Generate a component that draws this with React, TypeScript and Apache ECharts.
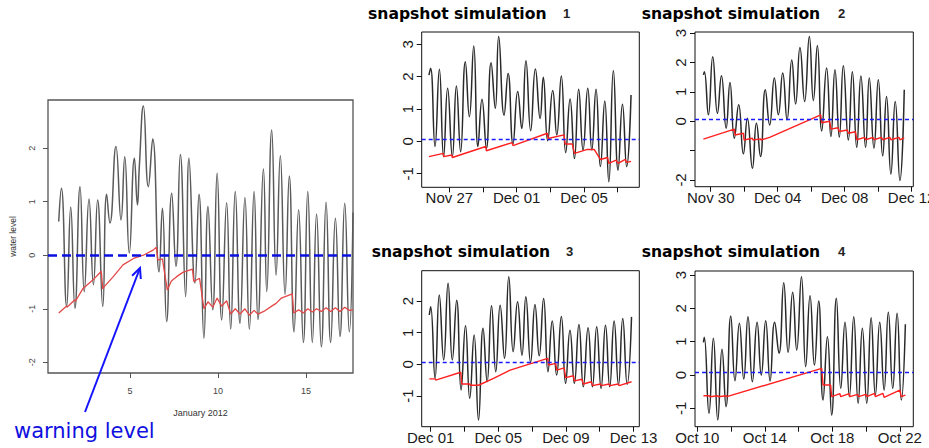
import React, { useEffect, useRef } from "react";
import * as echarts from "echarts";

// ---------- Left panel: January 2012 (x = day of month) ----------
const tideJan: number[][] = [
  [0.95, 0.63], [1.1, 1.25], [1.4, -0.96], [1.63, 0.9], [1.87, -0.99], [2.16, 1.28], [2.4, -0.68],
  [2.67, 1.05], [2.92, -0.55], [3.16, 1.03], [3.45, -0.96], [3.67, 1.14], [3.86, 0.6], [4.2, 2.03],
  [4.49, 0.66], [4.7, 1.84], [4.96, 0.04], [5.25, 1.81], [5.42, 0.94], [5.53, 1.66], [5.76, 2.79],
  [6.04, 1.28], [6.29, 2.17], [6.65, -0.31], [6.84, 0.88], [7.08, -1.24], [7.37, 1.16], [7.61, -0.21],
  [7.86, 1.88], [8.16, -0.77], [8.35, 1.81], [8.69, -0.52], [8.92, 1.14], [9.2, -1.55], [9.43, 0.91],
  [9.7, -1.02], [9.95, 1.53], [10.21, -1.21], [10.49, 0.98], [10.72, -1.38], [10.98, 1.19], [11.25, -1.27],
  [11.53, 1.08], [11.78, -1.38], [12.05, 1.19], [12.27, -1.2], [12.58, 1.61], [12.77, -0.68], [13.05, 2.34],
  [13.3, -0.37], [13.54, 1.86], [13.81, -0.73], [14.05, 1.48], [14.32, -1.43], [14.58, 0.85], [14.85, -1.63],
  [15.1, 1.19], [15.36, -1.63], [15.6, 0.77], [15.87, -1.71], [16.14, 0.99], [16.4, -1.63], [16.67, 0.69],
  [16.93, -1.52], [17.2, 0.97], [17.46, -1.43], [17.67, 0.8],
];
const modelJan: number[][] = [
  [0.95, -1.08], [1.4, -0.95], [1.42, -0.97], [1.87, -0.83], [1.9, -0.86], [2.33, -0.62], [2.9, -0.46],
  [3.37, -0.3], [3.45, -0.63], [3.5, -0.6], [4.05, -0.4], [4.6, -0.18], [5.2, -0.06], [5.76, 0.0],
  [6.33, 0.1], [6.5, 0.15], [6.58, -0.09], [6.84, -0.07], [7.12, -0.65], [7.35, -0.48], [7.65, -0.4],
  [8.0, -0.32], [8.55, -0.26], [8.62, -0.49], [8.95, -0.43], [9.2, -1.0], [9.43, -0.87], [9.7, -0.97],
  [9.95, -0.8], [10.21, -0.95], [10.49, -0.85], [10.72, -1.1], [10.98, -1.0], [11.25, -1.1], [11.53, -1.0],
  [11.78, -1.12], [12.05, -1.03], [12.27, -1.1], [12.6, -1.05], [13.05, -0.95], [13.3, -0.9], [13.6, -0.8],
  [14.22, -0.72], [14.3, -1.08], [14.58, -1.02], [14.85, -1.08], [15.1, -1.0], [15.36, -1.06], [15.6, -1.0],
  [15.87, -1.05], [16.14, -0.98], [16.4, -1.05], [16.67, -0.98], [16.93, -1.05], [17.2, -0.97], [17.46, -1.03],
  [17.67, -1.02],
];
const warnJan = 0;
const ticksJanX = [5, 10, 15];
const labelDaysJanX = [5, 10, 15];
const labelsJanX = ["5", "10", "15"];
const ticksJanY = [-2, -1, 0, 1, 2];
const labelValsJanY = [-2, -1, 0, 1, 2];

// ---------- Snapshot 1 (x = days after Nov 27) ----------
const tideS1: number[][] = [
  [-1.21, 2.05], [-1.11, 2.26], [-0.85, -0.16], [-0.59, 2.23], [-0.34, -0.47], [-0.1, 1.64], [0.18, -0.47],
  [0.42, 1.71], [0.67, -0.32], [0.95, 2.46], [1.19, 0.76], [1.45, 2.95], [1.7, -0.16], [1.94, 1.3],
  [2.2, -0.22], [2.48, 2.43], [2.73, 1.02], [2.93, 3.24], [3.25, 0.81], [3.49, 2.1], [3.78, -0.08],
  [4.06, 1.54], [4.3, 0.4], [4.55, 2.49], [4.83, 0.33], [5.11, 2.24], [5.39, 0.71], [5.58, 1.98],
  [5.84, 0.02], [6.14, 1.57], [6.38, 0.2], [6.65, 2.02], [6.91, -0.35], [7.17, 1.31], [7.43, -0.53],
  [7.68, 1.61], [7.94, -0.27], [8.22, 1.64], [8.46, -0.27], [8.71, 1.61], [8.97, -0.78], [9.23, 1.25],
  [9.47, -1.25], [9.74, 2.19], [10.02, -0.89], [10.28, 1.15], [10.53, -0.78], [10.79, 1.43],
];
const modelS1: number[][] = [
  [-1.21, -0.47], [-0.36, -0.37], [-0.33, -0.47], [0.15, -0.42], [0.18, -0.5], [2.16, -0.16], [2.2, -0.29],
  [3.72, -0.04], [3.78, -0.13], [5.82, 0.25], [5.86, 0.09], [6.81, 0.2], [6.88, -0.08], [7.3, -0.08],
  [7.43, -0.37], [8.2, -0.25], [8.6, -0.25], [8.97, -0.56], [9.4, -0.5], [9.47, -0.68], [9.9, -0.58],
  [10.02, -0.68], [10.45, -0.56], [10.53, -0.65], [10.79, -0.62],
];
const warnS1 = 0.06;
const ticksS1X = [0, 2, 4, 6, 8, 10];
const labelDaysS1X = [0, 4, 8];
const labelsS1X = ["Nov 27", "Dec 01", "Dec 05"];
const ticksS1Y = [-1, 0, 1, 2, 3];
const labelValsS1Y = [-1, 0, 1, 2, 3];

// ---------- Snapshot 2 (x = days after Nov 30) ----------
const tideS2: number[][] = [
  [-0.44, 1.58], [-0.38, 1.69], [-0.14, 0.22], [0.12, 2.2], [0.4, 0.27], [0.64, 1.55], [0.92, -0.24],
  [1.15, 1.32], [1.41, -0.58], [1.67, 0.56], [1.95, -1.11], [2.19, 0.1], [2.49, -1.6], [2.73, -0.07],
  [2.97, -1.2], [3.26, 1.07], [3.52, -0.13], [3.8, 1.47], [4.04, 0.22], [4.3, 1.64], [4.56, 0.05],
  [4.84, 2.09], [5.07, 0.59], [5.33, 2.51], [5.61, 0.67], [5.89, 2.89], [6.13, 0.7], [6.37, 2.58],
  [6.63, -0.33], [6.92, 1.81], [7.18, -0.52], [7.42, 1.75], [7.68, -0.54], [7.92, 1.89], [8.22, -0.64],
  [8.46, 1.69], [8.72, -0.89], [8.97, 1.54], [9.25, -0.89], [9.47, 1.47], [9.75, -0.92], [10.01, 1.41],
  [10.27, -1.18], [10.5, 0.84], [10.76, -1.8], [11.02, 0.67], [11.3, -2.02], [11.56, 1.07],
];
const modelS2: number[][] = [
  [-0.44, -0.61], [1.41, -0.27], [1.45, -0.47], [1.95, -0.41], [1.99, -0.64], [2.49, -0.58], [2.53, -0.64],
  [2.97, -0.6], [3.0, -0.64], [3.52, -0.55], [6.57, 0.22], [6.63, -0.05], [7.1, 0.0], [7.18, -0.27],
  [7.6, -0.22], [7.68, -0.35], [8.15, -0.3], [8.22, -0.41], [8.65, -0.36], [8.72, -0.63], [9.2, -0.55],
  [9.25, -0.63], [9.7, -0.55], [9.75, -0.63], [10.2, -0.55], [10.27, -0.63], [10.7, -0.55], [10.76, -0.63],
  [11.25, -0.55], [11.3, -0.63], [11.56, -0.57],
];
const warnS2 = 0.07;
const ticksS2X = [0, 2, 4, 6, 8, 10, 12];
const labelDaysS2X = [0, 4, 8, 12];
const labelsS2X = ["Nov 30", "Dec 04", "Dec 08", "Dec 12"];
const ticksS2Y = [-2, -1, 0, 1, 2, 3];
const labelValsS2Y = [-2, 0, 1, 2, 3];

// ---------- Snapshot 3 (x = days after Dec 01) ----------
const tideS3: number[][] = [
  [-0.08, 1.56], [0, 1.82], [0.26, -0.44], [0.51, 2.19], [0.77, 0.14], [1.03, 2.56], [1.28, 0.14],
  [1.54, 2.03], [1.8, -0.81], [2.06, 1.22], [2.31, -1.07], [2.57, 0.93], [2.83, -1.76], [3.1, 1.14],
  [3.34, -0.55], [3.6, 1.85], [3.85, -0.23], [4.11, 1.87], [4.37, 0.19], [4.62, 2.77], [4.88, 0.4],
  [5.14, 1.98], [5.4, 0.29], [5.63, 2.14], [5.91, 0.06], [6.17, 1.89], [6.42, 0.27], [6.68, 2.08],
  [6.94, -0.23], [7.19, 1.37], [7.45, -0.34], [7.73, 1.51], [7.98, -0.6], [8.24, 1.08], [8.5, -0.6],
  [8.77, 1.26], [9.03, -0.71], [9.31, 1.16], [9.57, -0.71], [9.82, 1.19], [10.08, -0.76], [10.34, 1.24],
  [10.59, -0.71], [10.85, 1.37], [11.11, -0.65], [11.36, 1.45], [11.62, -0.63], [11.88, 1.5],
];
const modelS3: number[][] = [
  [-0.08, -0.46], [0.28, -0.46], [0.3, -0.5], [1.78, -0.25], [1.84, -0.62], [2.3, -0.62], [2.35, -0.66],
  [2.83, -0.66], [3.72, -0.44], [4.7, -0.18], [6.92, 0.19], [6.98, -0.02], [7.4, 0.03], [7.45, -0.18],
  [7.9, -0.11], [7.98, -0.42], [8.45, -0.36], [8.5, -0.52], [8.95, -0.47], [9.03, -0.62], [9.5, -0.55],
  [9.57, -0.67], [10.05, -0.62], [10.1, -0.67], [10.55, -0.62], [10.6, -0.67], [11.1, -0.62], [11.15, -0.67],
  [11.88, -0.55],
];
const warnS3 = 0.07;
const ticksS3X = [0, 2, 4, 6, 8, 10, 12];
const labelDaysS3X = [0, 4, 8, 12];
const labelsS3X = ["Dec 01", "Dec 05", "Dec 09", "Dec 13"];
const ticksS3Y = [-1, 0, 1, 2];
const labelValsS3Y = [-1, 0, 1, 2];

// ---------- Snapshot 4 (x = days after Oct 10) ----------
const tideS4: number[][] = [
  [0.36, 0.98], [0.41, 1.13], [0.69, -1.15], [0.95, 1.1], [1.21, -1.35], [1.46, 0.77], [1.7, -0.95],
  [1.98, 1.77], [2.23, -0.17], [2.49, 1.55], [2.75, -0.12], [3.0, 1.75], [3.26, -0.2], [3.54, 1.58],
  [3.79, 0], [4.05, 1.63], [4.31, -0.18], [4.58, 1.58], [4.84, 0.65], [5.12, 2.77], [5.38, 0.68],
  [5.65, 2.48], [5.89, 0.75], [6.17, 2.95], [6.42, 0.25], [6.68, 2.38], [6.94, 0.3], [7.19, 2.22],
  [7.45, -0.75], [7.71, 1.15], [7.96, -1.2], [8.24, 2.3], [8.5, -0.4], [8.75, 1.58], [9.01, -0.65],
  [9.27, 1.75], [9.53, -0.85], [9.78, 1.4], [10.04, -0.85], [10.3, 1.72], [10.55, -0.6], [10.81, 1.58],
  [11.07, -0.45], [11.32, 1.88], [11.58, -0.4], [11.84, 1.85], [12.09, -0.75], [12.33, 1.52],
];
const modelS4: number[][] = [
  [0.36, -0.62], [0.7, -0.62], [0.75, -0.65], [1.2, -0.62], [1.25, -0.65], [1.7, -0.62], [1.75, -0.65],
  [7.37, 0.2], [7.45, -0.3], [7.9, -0.3], [7.96, -0.65], [8.45, -0.56], [8.5, -0.65], [9.0, -0.56],
  [9.05, -0.65], [9.5, -0.58], [9.55, -0.65], [10.0, -0.58], [10.05, -0.65], [10.5, -0.55], [10.55, -0.65],
  [11.0, -0.55], [11.07, -0.67], [12.0, -0.45], [12.09, -0.65], [12.33, -0.6],
];
const warnS4 = 0.08;
const ticksS4X = [0, 2, 4, 6, 8, 10, 12];
const labelDaysS4X = [0, 4, 8, 12];
const labelsS4X = ["Oct 10", "Oct 14", "Oct 18", "Oct 22"];
const ticksS4Y = [-1, 0, 1, 2, 3];
const labelValsS4Y = [-1, 0, 1, 2, 3];

const titleText = "snapshot simulation";
const titleNumbers = ["1", "2", "3", "4"];

type Panel = {
  tide: number[][]; model: number[][]; warn: number;
  xTicks: number[]; xLabelAt: number[]; xLabels: string[];
  yTicks: number[]; yLabelAt: number[];
  xMin: number; xMax: number; yMin: number; yMax: number;
  rect: [number, number, number, number];
};

const panels: Panel[] = [
  { tide: tideJan, model: modelJan, warn: warnJan, xTicks: ticksJanX, xLabelAt: labelDaysJanX, xLabels: labelsJanX,
    yTicks: ticksJanY, yLabelAt: labelValsJanY, xMin: 0.34, xMax: 17.67, yMin: -2.2, yMax: 2.9, rect: [48, 100, 305, 273] },
  { tide: tideS1, model: modelS1, warn: warnS1, xTicks: ticksS1X, xLabelAt: labelDaysS1X, xLabels: labelsS1X,
    yTicks: ticksS1Y, yLabelAt: labelValsS1Y, xMin: -1.64, xMax: 11.28, yMin: -1.42, yMax: 3.38, rect: [421.7, 32, 217.6, 155.3] },
  { tide: tideS2, model: modelS2, warn: warnS2, xTicks: ticksS2X, xLabelAt: labelDaysS2X, xLabels: labelsS2X,
    yTicks: ticksS2Y, yLabelAt: labelValsS2Y, xMin: -0.94, xMax: 12.1, yMin: -2.23, yMax: 3.04, rect: [695, 32, 218.3, 154.7] },
  { tide: tideS3, model: modelS3, warn: warnS3, xTicks: ticksS3X, xLabelAt: labelDaysS3X, xLabels: labelsS3X,
    yTicks: ticksS3Y, yLabelAt: labelValsS3Y, xMin: -0.53, xMax: 12.34, yMin: -1.97, yMax: 2.96, rect: [421.7, 270.7, 217.6, 156] },
  { tide: tideS4, model: modelS4, warn: warnS4, xTicks: ticksS4X, xLabelAt: labelDaysS4X, xLabels: labelsS4X,
    yTicks: ticksS4Y, yLabelAt: labelValsS4Y, xMin: -0.14, xMax: 12.8, yMin: -1.55, yMax: 3.12, rect: [695, 271, 218.3, 155.7] },
];

const titlePos: [number, number, number][] = [
  [368, 14, 563], [641.7, 14, 838], [371.7, 252, 566], [641.7, 252, 838],
];

export default function App() {
  const ref = useRef<HTMLDivElement>(null);
  useEffect(() => {
    document.body.style.margin = "0";
    if (!ref.current) return;
    const chart = echarts.init(ref.current, undefined, { renderer: "svg" });
    const grid: any[] = [];
    const xAxis: any[] = [];
    const yAxis: any[] = [];
    const series: any[] = [];
    panels.forEach((p, i) => {
      const big = i === 0;
      const txt = big ? "#444" : "#1a1a1a";
      const fs = big ? 9 : 15;
      const ff = "Liberation Sans, Arial, sans-serif";
      grid.push({
        left: p.rect[0], top: p.rect[1], width: p.rect[2], height: p.rect[3],
        show: true, borderColor: big ? "#555" : "#111", borderWidth: big ? 1.3 : 1,
        backgroundColor: "transparent", containLabel: false, outerBoundsMode: "none",
      });
      xAxis.push({
        type: "value", gridIndex: i, min: p.xMin, max: p.xMax,
        axisLine: { show: false, onZero: false },
        splitLine: { show: false },
        axisTick: { show: true, length: 5, customValues: p.xTicks, lineStyle: { color: big ? "#555" : "#111", width: 1 } },
        axisLabel: {
          show: true, customValues: p.xLabelAt, margin: big ? 13 : 3, fontSize: fs, color: txt, fontFamily: ff,
          formatter: (v: number) => { const k = p.xLabelAt.indexOf(v); return k >= 0 ? p.xLabels[k] : ""; },
        },
        name: big ? "January 2012" : "", nameLocation: "middle", nameGap: 35,
        nameTextStyle: { fontSize: 9, color: "#333", fontFamily: ff },
      });
      yAxis.push({
        type: "value", gridIndex: i, min: p.yMin, max: p.yMax,
        axisLine: { show: false, onZero: false },
        splitLine: { show: false },
        axisTick: { show: true, length: 5, customValues: p.yTicks, lineStyle: { color: big ? "#555" : "#111", width: 1 } },
        axisLabel: {
          show: true, customValues: p.yLabelAt, rotate: 90, margin: big ? 12 : 7, fontSize: fs, color: txt, fontFamily: ff,
          formatter: (v: number) => String(v),
        },
        name: big ? "water level" : "", nameLocation: "middle", nameGap: 31,
        nameTextStyle: { fontSize: 8.5, color: "#333", fontFamily: ff },
      });
      series.push({
        type: "line", xAxisIndex: i, yAxisIndex: i, data: p.tide, smooth: 0.5,
        symbol: "none", showSymbol: false, z: 2,
        lineStyle: { color: big ? "#5a5a5a" : "#2a2a2a", width: 1.5 },
      });
      series.push({
        type: "line", xAxisIndex: i, yAxisIndex: i, data: p.model,
        symbol: "none", showSymbol: false, z: 3,
        lineStyle: { color: big ? "#e34848" : "#ff2020", width: big ? 1.3 : 1.4 },
        markLine: {
          silent: true, symbol: ["none", "none"], label: { show: false }, z: 6,
          lineStyle: big ? { color: "#0a10e0", width: 2.6, type: [9, 5] } : { color: "#1a1aff", width: 1.4, type: [4, 3] },
          data: [{ yAxis: p.warn }],
        },
      });
    });

    const graphic: any[] = [];
    titlePos.forEach((t, i) => {
      graphic.push({
        type: "text", x: t[0], y: t[1],
        style: { text: titleText, fontFamily: "DejaVu Sans, Verdana, sans-serif", fontWeight: "bold", fontSize: 15.6,
          fill: "#000", align: "left", verticalAlign: "middle" },
      });
      graphic.push({
        type: "text", x: t[2], y: t[1] - 1,
        style: { text: titleNumbers[i], fontFamily: "Liberation Sans, Arial, sans-serif", fontWeight: "bold", fontSize: 13,
          fill: "#222", align: "left", verticalAlign: "middle" },
      });
    });
    graphic.push({
      type: "text", x: 14, y: 431,
      style: { text: "warning level", fontFamily: "DejaVu Sans, Verdana, sans-serif", fontSize: 21,
        fill: "#1010e0", align: "left", verticalAlign: "middle" },
    });
    graphic.push({
      type: "line", shape: { x1: 85, y1: 412, x2: 140, y2: 268 },
      style: { stroke: "#1414ff", lineWidth: 2 },
    });
    graphic.push({
      type: "polyline", shape: { points: [[132.1, 275.7], [140, 268], [140.8, 279]] },
      style: { stroke: "#1414ff", lineWidth: 2, fill: "none" },
    });

    chart.setOption({
      animation: false,
      backgroundColor: "#ffffff",
      grid, xAxis, yAxis, series, graphic,
    });
    return () => chart.dispose();
  }, []);
  return <div ref={ref} style={{ width: 929, height: 448 }} />;
}
